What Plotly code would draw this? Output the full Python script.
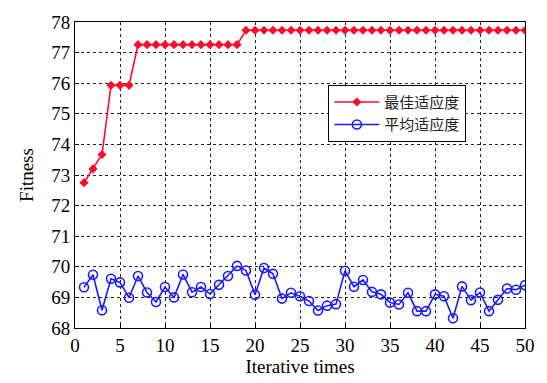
import plotly.graph_objects as go

iterations = list(range(1, 51))
best_fitness = [72.75, 73.2, 73.67, 75.93, 75.93, 75.93] + [77.26] * 12 + [77.73] * 32
avg_fitness = [69.33, 69.74, 68.58, 69.61, 69.49, 68.99, 69.70, 69.16, 68.85, 69.34,
               69.00, 69.75, 69.17, 69.34, 69.11, 69.41, 69.70, 70.03, 69.88, 69.09,
               69.96, 69.77, 68.96, 69.15, 69.04, 68.88, 68.57, 68.73, 68.78, 69.87,
               69.35, 69.57, 69.18, 69.10, 68.83, 68.77, 69.15, 68.55, 68.55, 69.10,
               69.04, 68.32, 69.36, 68.91, 69.16, 68.55, 68.92, 69.29, 69.25, 69.40]
x_ticks = list(range(0, 51, 5))
y_ticks = list(range(68, 79, 1))

font_serif = "Liberation Serif, Times New Roman, serif"

fig = go.Figure()
fig.add_trace(go.Scatter(
    x=iterations, y=best_fitness, mode="lines+markers", name="最佳适应度",
    line=dict(color="#ff0a2a", width=1.6),
    marker=dict(symbol="diamond", size=7, color="#ff0a2a"),
))
fig.add_trace(go.Scatter(
    x=iterations, y=avg_fitness, mode="lines+markers", name="平均适应度",
    line=dict(color="#1a1aff", width=1.6),
    marker=dict(symbol="circle-open", size=9, color="#1a1aff", line=dict(width=1.6)),
))

axis_common = dict(
    showline=True, linecolor="black", linewidth=1, mirror=True,
    ticks="inside", ticklen=4, tickcolor="black",
    showgrid=True, gridcolor="#222222", griddash="dot", gridwidth=1,
    zeroline=False,
    tickfont=dict(family=font_serif, size=19, color="black"),
)

fig.update_layout(
    width=547, height=383,
    margin=dict(l=75, r=15, t=16, b=47),
    paper_bgcolor="white", plot_bgcolor="white",
    showlegend=True,
    legend=dict(
        x=0.563, y=0.795, xanchor="left", yanchor="top",
        bgcolor="white", bordercolor="black", borderwidth=1,
        font=dict(family="Noto Sans CJK SC", size=15, color="#222"),
        tracegroupgap=0, itemwidth=45,
    ),
    xaxis=dict(range=[0, 50], tickvals=x_ticks,
               title=dict(text="Iterative times", font=dict(family=font_serif, size=19, color="black"), standoff=2),
               **axis_common),
    yaxis=dict(range=[68, 78], tickvals=y_ticks,
               title=dict(text="Fitness", font=dict(family=font_serif, size=19, color="black"), standoff=12),
               **axis_common),
)

fig.write_html("out.html")
